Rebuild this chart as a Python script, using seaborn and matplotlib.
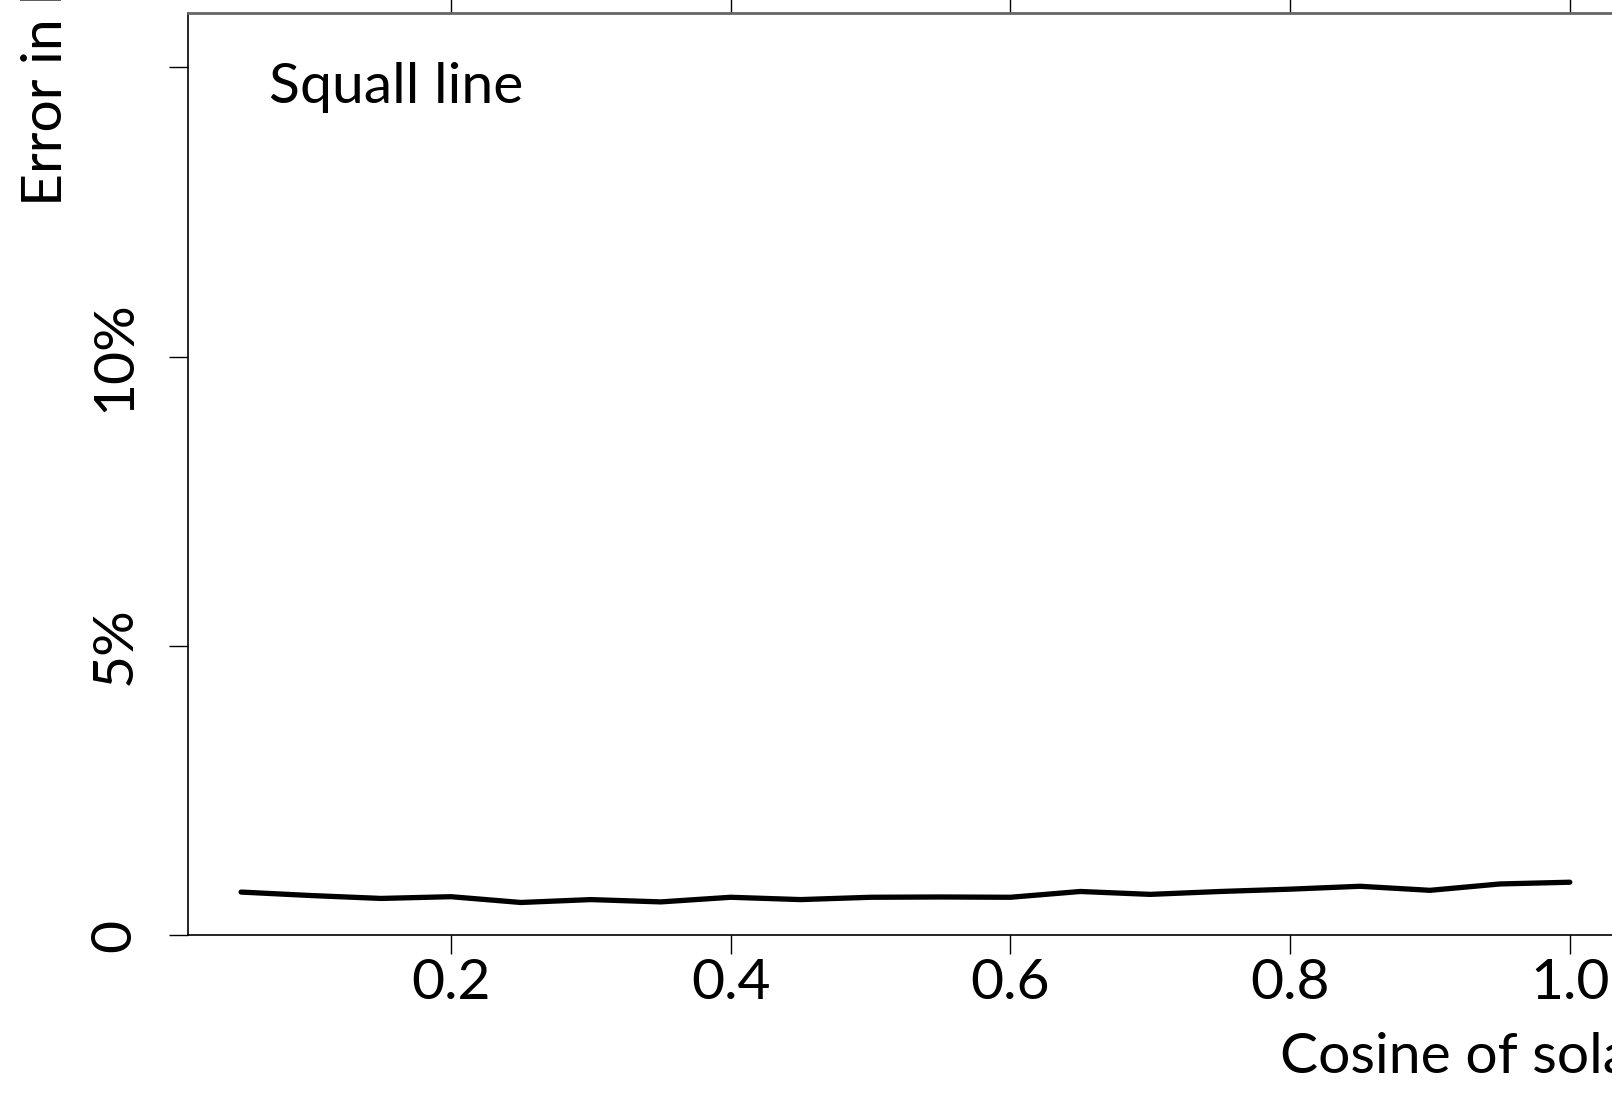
import matplotlib
matplotlib.use('Agg')
import matplotlib.pyplot as plt
import numpy as np
import pandas as pd
import seaborn as sns

# data (error in %, vs cosine of solar zenith angle)
cos_sza = [0.05, 0.10, 0.15, 0.20, 0.25, 0.30, 0.35, 0.40, 0.45, 0.50,
           0.55, 0.60, 0.65, 0.70, 0.75, 0.80, 0.85, 0.90, 0.95, 1.00]
error_pct = [0.75, 0.69, 0.64, 0.67, 0.57, 0.62, 0.58, 0.66, 0.62, 0.66,
             0.665, 0.66, 0.76, 0.71, 0.76, 0.80, 0.85, 0.78, 0.89, 0.92]
x_ticks = [0.2, 0.4, 0.6, 0.8, 1.0]
x_ticklabels = ['0.2', '0.4', '0.6', '0.8', '1.0']
y_ticks = [0, 5, 10, 15]
y_ticklabels = ['0', '5%', '10%', '']

sns.set_style('ticks')
plt.rcParams['font.family'] = ['Lato', 'DejaVu Sans']
plt.rcParams['text.color'] = 'black'
plt.rcParams['xtick.color'] = 'black'
plt.rcParams['ytick.color'] = 'black'
plt.rcParams['xtick.labelcolor'] = 'black'
plt.rcParams['ytick.labelcolor'] = 'black'

df = pd.DataFrame({'cos': cos_sza, 'err': error_pct})

fig = plt.figure(figsize=(16.12, 10.94), dpi=100)
ax = fig.add_axes([0.1166, 0.1449, 0.8902, 0.8429])

sns.lineplot(data=df, x='cos', y='err', ax=ax, color='black', linewidth=3.8)

ax.set_xlim(0.012, 1.038)
ax.set_ylim(0, 15.93)
ax.set_xticks(x_ticks)
ax.set_xticklabels(x_ticklabels, fontsize=41)
ax.set_yticks(y_ticks)
ax.set_yticklabels(y_ticklabels, fontsize=41, rotation=90, va='center')
ax.set_xlabel('')
ax.set_ylabel('')

ax.tick_params(axis='x', direction='out', length=14, width=1, pad=2, top=True)
ax.tick_params(axis='y', direction='out', length=14, width=1, pad=20)

for s in ['left', 'bottom']:
    ax.spines[s].set_color('black')
    ax.spines[s].set_linewidth(1.2)
ax.spines['top'].set_visible(True)
ax.spines['top'].set_color('#666666')
ax.spines['top'].set_linewidth(2)
ax.spines['right'].set_visible(True)
ax.spines['right'].set_color('black')

ax.text(0.0565, 0.903, 'Squall line', transform=ax.transAxes,
        fontsize=41, ha='left', va='baseline')

fig.text(0.029, 0.812, 'Error in heating rate', rotation=90,
         fontsize=41, ha='center', va='bottom')
fig.text(0.794, 0.020, 'Cosine of solar zenith angle',
         fontsize=41, ha='left', va='baseline')

fig.savefig('out.png', dpi=100)
